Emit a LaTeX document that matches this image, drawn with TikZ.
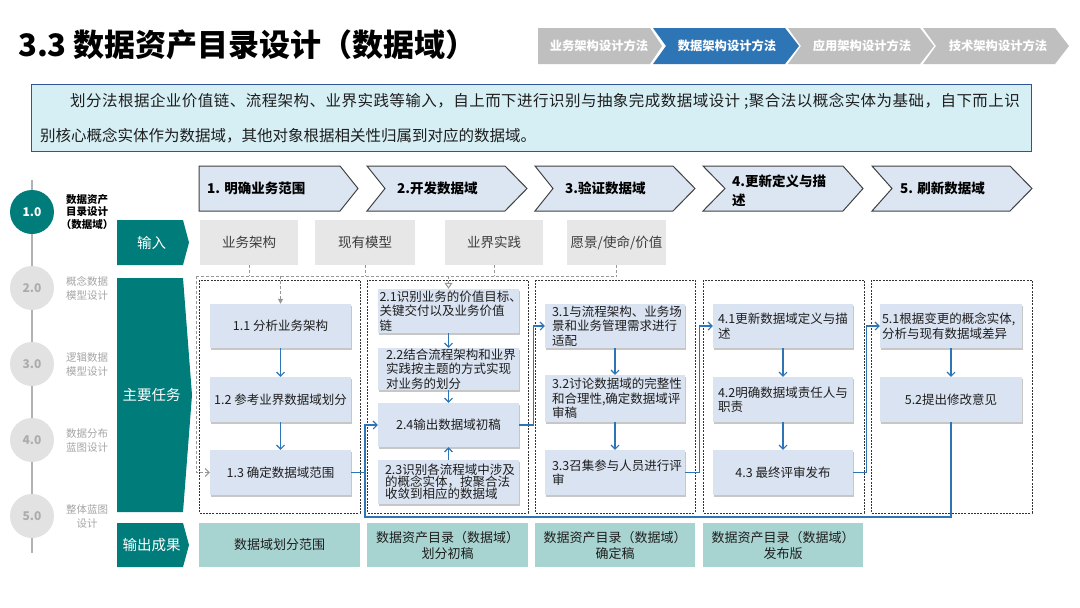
\documentclass[tikz,border=0pt]{standalone}
\usepackage{fontspec}
\setmainfont{Noto Sans CJK SC}
\usetikzlibrary{arrows.meta,shadows,calc}
\newcommand\myfs[2]{\fontsize{#1}{#2}\selectfont}
\definecolor{teal1}{RGB}{0,124,122}
\definecolor{tasksb}{RGB}{218,227,241}
\definecolor{chev}{RGB}{220,230,242}
\definecolor{ingray}{RGB}{231,231,231}
\definecolor{outteal}{RGB}{167,212,209}
\definecolor{flowblue}{RGB}{46,117,182}
\definecolor{descfill}{RGB}{214,239,245}
\definecolor{descline}{RGB}{47,85,151}
\definecolor{crumbgray}{RGB}{191,191,191}
\definecolor{crumbblue}{RGB}{46,117,182}
\definecolor{circgray}{RGB}{226,226,226}
\definecolor{circtext}{RGB}{172,172,172}
\definecolor{labgray}{RGB}{165,165,165}
\definecolor{txtc}{RGB}{30,30,30}
\definecolor{txtg}{RGB}{60,60,60}
\definecolor{dashg}{RGB}{150,150,150}
\begin{document}
\begin{tikzpicture}[x=1pt,y=-1pt,
  task/.style={fill=tasksb, inner sep=0pt, font=\myfs{12.5}{14.5}, text=txtc,
    drop shadow={shadow xshift=0.8pt, shadow yshift=-1.8pt, fill=black, opacity=0.22}},
  inbox/.style={fill=ingray, minimum height=45pt, inner sep=0pt, font=\myfs{13.5}{16}, text=txtg},
  outbox/.style={fill=outteal, minimum height=44pt, inner sep=0pt, align=center, font=\myfs{13}{16}, text=txtc},
  tlab/.style={font=\myfs{14.5}{16}, text=white, inner sep=0pt},
  crumb/.style={font=\bfseries\myfs{12.3}{12.3}, text=white, inner sep=0pt},
  steptext/.style={font=\bfseries\myfs{13.5}{19.5}, text=black, anchor=west, inner sep=0pt, align=left},
  chevshape/.style={fill=chev, draw=black!75, line width=1pt},
  grpd/.style={draw=black!80, dash pattern=on 2pt off 1.2pt, line width=0.9pt},
  gdash/.style={draw=dashg, dash pattern=on 3pt off 2pt, line width=1pt},
  flow/.style={draw=flowblue, line width=1.1pt, -{Straight Barb[length=4pt,width=8pt]}},
  flowline/.style={draw=flowblue, line width=1.1pt},
  circact/.style={circle, fill=teal1, minimum size=44pt, inner sep=0pt, text=white, font=\bfseries\myfs{12}{12}},
  circoff/.style={circle, fill=circgray, minimum size=44pt, inner sep=0pt, text=circtext, font=\bfseries\myfs{12}{12}},
  labon/.style={font=\bfseries\myfs{10.5}{12.5}, align=center, inner sep=0pt, text=black},
  laboff/.style={font=\myfs{10.5}{14}, align=center, inner sep=0pt, text=labgray}
]
\useasboundingbox (0,0) rectangle (1080,608);
\fill[white] (0,0) rectangle (1080,608);

% title
\node[anchor=west, font=\bfseries\myfs{31}{31}, inner sep=0pt, text=black] (title) at (18,44.5) {3.3 数据资产目录设计（数据域）};

% breadcrumbs
\fill[crumbgray] (538,28) -- (650,28) -- (662,46) -- (650,64) -- (538,64) -- cycle;
\fill[crumbblue] (653,28) -- (785,28) -- (799,46) -- (785,64) -- (653,64) -- (666,46) -- cycle;
\fill[crumbgray] (788,28) -- (920,28) -- (934,46) -- (920,64) -- (788,64) -- (801,46) -- cycle;
\fill[crumbgray] (923,28) -- (1055,28) -- (1069,46) -- (1055,64) -- (923,64) -- (936,46) -- cycle;
\node[crumb] (b1) at (599,46) {业务架构设计方法};
\node[crumb] (b2) at (727,46) {数据架构设计方法};
\node[crumb] (b3) at (862,46) {应用架构设计方法};
\node[crumb] (b4) at (998,46) {技术架构设计方法};

% description
\node[draw=descline, fill=descfill, line width=0.8pt, minimum width=1000pt, minimum height=67pt, inner sep=0pt] (desc) at (531,117.5) {};
\node[anchor=west, font=\myfs{15.5}{15.5}, text=txtc, inner sep=0pt] (d1) at (70,101) {\addfontfeatures{LetterSpace=3}划分法根据企业价值链、流程架构、业界实践等输入，自上而下进行识别与抽象完成数据域设计 ;聚合法以概念实体为基础，自下而上识};
\node[anchor=west, font=\myfs{15.5}{15.5}, text=txtc, inner sep=0pt] (d2) at (40,135.5) {别核心概念实体作为数据域，其他对象根据相关性归属到对应的数据域。};

% timeline
\draw[draw=black!30, line width=2pt] (32,180) -- (32,553);
\node[circact] (c1) at (32,212) {1.0};
\node[circoff] (c2) at (32,288) {2.0};
\node[circoff] (c3) at (32,364) {3.0};
\node[circoff] (c4) at (32,440) {4.0};
\node[circoff] (c5) at (32,516) {5.0};
\node[labon] (l1) at (87,212) {数据资产\\目录设计\\（数据域）};
\node[laboff] (l2) at (87,288.5) {概念数据\\模型设计};
\node[laboff] (l3) at (87,364.5) {逻辑数据\\模型设计};
\node[laboff] (l4) at (87,440.5) {数据分布\\蓝图设计};
\node[laboff] (l5) at (87,516.5) {整体蓝图\\设计};

% row labels
\fill[teal1] (117,220) -- (183,220) -- (189,242.5) -- (183,265) -- (117,265) -- cycle;
\fill[teal1] (117,278) -- (183,278) -- (192,395) -- (183,512) -- (117,512) -- cycle;
\fill[teal1] (117,523) -- (183,523) -- (189,545) -- (183,567) -- (117,567) -- cycle;
\node[tlab] (rin) at (151.5,242.5) {输入};
\node[tlab] (rtask) at (151.5,395) {主要任务};
\node[tlab] (rout) at (151.5,545) {输出成果};

% step chevrons
\draw[chevshape] (199,166) -- (340,166) -- (358,188.5) -- (340,211) -- (199,211) -- cycle;
\draw[chevshape] (367,166) -- (505,166) -- (527,188.5) -- (505,211) -- (367,211) -- (385,188.5) -- cycle;
\draw[chevshape] (535,166) -- (673,166) -- (695,188.5) -- (673,211) -- (535,211) -- (553,188.5) -- cycle;
\draw[chevshape] (703,166) -- (843,166) -- (863,188.5) -- (843,211) -- (703,211) -- (725,188.5) -- cycle;
\draw[chevshape] (872,166) -- (1010,166) -- (1032,188.5) -- (1010,211) -- (872,211) -- (892,188.5) -- cycle;
\node[steptext] (s1) at (207,188.5) {1. 明确业务范围};
\node[steptext] (s2) at (397,188.5) {2.开发数据域};
\node[steptext] (s3) at (565,188.5) {3.验证数据域};
\node[steptext] (s4) at (732,191) {4.更新定义与描\\述};
\node[steptext] (s5) at (900,188.5) {5. 刷新数据域};

% inputs
\node[inbox, minimum width=98pt] (in1) at (249,242.5) {业务架构};
\node[inbox, minimum width=100pt] (in2) at (365,242.5) {现有模型};
\node[inbox, minimum width=98pt] (in3) at (494,242.5) {业界实践};
\node[inbox, minimum width=99pt] (in4) at (616.5,242.5) {愿景/使命/价值};

% group frames
\draw[grpd] (199,280) rectangle (360,513);
\draw[grpd] (367,280) rectangle (528,513);
\draw[grpd] (535,280) rectangle (695,513);
\draw[grpd] (703,280) rectangle (864,513);
\draw[grpd] (871,280) rectangle (1032,513);

% tasks group 1
\node[task, minimum width=141pt, minimum height=44pt] (t11) at (280.5,326) {1.1 分析业务架构};
\node[task, minimum width=141pt, minimum height=45pt] (t12) at (280.5,399.5) {1.2 参考业界数据域划分};
\node[task, minimum width=141pt, minimum height=45pt] (t13) at (280.5,472.5) {1.3 确定数据域范围};
% group 2
\node[task, align=left, text width=138pt, inner xsep=1.5pt, minimum height=44pt] (t21) at (448.5,311) {2.1识别业务的价值目标、\\关键交付以及业务价值\\链};
\node[task, align=left, text width=125pt, inner xsep=8pt, minimum height=42pt] (t22) at (448.5,369) {2.2结合流程架构和业界\\实践按主题的方式实现\\对业务的划分};
\node[task, minimum width=141pt, minimum height=44pt] (t24) at (448.5,425) {2.4输出数据域初稿};
\node[task, align=left, text width=127pt, inner xsep=7pt, minimum height=44pt, font=\myfs{12.5}{12}] (t23) at (448.5,482) {2.3识别各流程域中涉及\\的概念实体，按聚合法\\收敛到相应的数据域};
% group 3
\node[task, align=left, text width=126pt, inner xsep=7pt, minimum height=44pt] (t31) at (615,326) {3.1与流程架构、业务场\\景和业务管理需求进行\\适配};
\node[task, align=left, text width=126pt, inner xsep=7pt, minimum height=47pt] (t32) at (615,398.5) {3.2讨论数据域的完整性\\和合理性,确定数据域评\\审稿};
\node[task, align=left, text width=126pt, inner xsep=7pt, minimum height=45pt] (t33) at (615,472.5) {3.3召集参与人员进行评\\审};
% group 4
\node[task, align=left, text width=130pt, inner xsep=5pt, minimum height=44pt] (t41) at (783,326) {4.1更新数据域定义与描\\述};
\node[task, align=left, text width=130pt, inner xsep=5pt, minimum height=45pt] (t42) at (783,399.5) {4.2明确数据域责任人与\\职责};
\node[task, minimum width=140pt, minimum height=45pt] (t43) at (783,472.5) {4.3 最终评审发布};
% group 5
\node[task, align=left, text width=138pt, inner xsep=2pt, minimum height=44pt] (t51) at (951,326) {5.1根据变更的概念实体,\\分析与现有数据域差异};
\node[task, minimum width=142pt, minimum height=45pt] (t52) at (951,399.5) {5.2提出修改意见};

% outputs
\node[outbox, minimum width=161pt] (o1) at (279.5,545) {数据域划分范围};
\node[outbox, minimum width=161pt] (o2) at (447.5,545) {数据资产目录（数据域）\\划分初稿};
\node[outbox, minimum width=160pt] (o3) at (615,545) {数据资产目录（数据域）\\确定稿};
\node[outbox, minimum width=160pt] (o4) at (783,545) {数据资产目录（数据域）\\发布版};

% gray dashed input connectors
\coordinate (busL) at (196,276);
\coordinate (busR) at (616.5,276);
\draw[gdash] (busL) -- (busR);
\draw[gdash] (in1.south) -- (in1.south |- busL);
\draw[gdash] (in2.south) -- (in2.south |- busL);
\draw[gdash] (in3.south) -- (in3.south |- busL);
\draw[gdash] (in4.south) -- (busR);
\draw[gdash, -{Triangle[length=5pt,width=5pt]}] (t11.north |- busL) -- (t11.north);
\draw[gdash, -{Triangle[open,length=6pt,width=8pt]}] (t21.north |- busL) -- (t21.north);
\draw[gdash, -{Straight Barb[length=4pt,width=8pt]}] (busL) |- (t13.west);

% blue flows within groups
\draw[flow] (t11) -- (t12);
\draw[flow] (t12) -- (t13);
\draw[flow] (t21) -- (t22);
\draw[flow] (t22) -- (t24);
\draw[flow] (t23) -- (t24);
\draw[flow] (t31) -- (t32);
\draw[flow] (t32) -- (t33);
\draw[flow] (t41) -- (t42);
\draw[flow] (t42) -- (t43);
\draw[flow] (t51) -- (t52);

% blue flows between groups
\coordinate (ret) at (365,517);
\draw[flow] (t52.south) |- (ret) |- (t24.west);
\draw[flowline] (t13.east) -- (t13.east -| ret);
\draw[flow] (t24.east) -- ++(14,0) |- (t31.west);
\draw[flow] (t33.east) -- ++(14.5,0) |- (t41.west);
\draw[flow] (t43.east) -- ++(13.5,0) |- (t51.west);
\end{tikzpicture}
\end{document}
